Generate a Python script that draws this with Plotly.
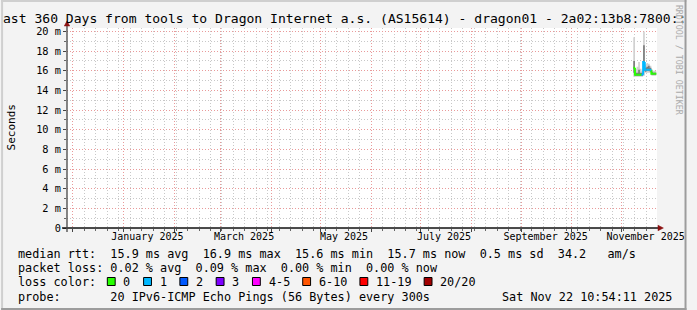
import plotly.graph_objects as go
import pandas as pd

# ---------------- data ----------------
title_text = "ast 360 Days from tools to Dragon Internet a.s. (AS15614) - dragon01 - 2a02:13b8:7800::"
y_title = "Seconds"
watermark = "RRDTOOL / TOBI OETIKER"

range_start = "2024-11-27 10:54:11"
range_end = "2025-11-22 10:54:11"

y_tick_values = [0, 2, 4, 6, 8, 10, 12, 14, 16, 18, 20]
y_tick_labels = ["0", "2 m", "4 m", "6 m", "8 m", "10 m", "12 m", "14 m", "16 m", "18 m", "20 m"]

month_grid_dates = ["2024-12-01", "2025-01-01", "2025-02-01", "2025-03-01", "2025-04-01",
                    "2025-05-01", "2025-06-01", "2025-07-01", "2025-08-01", "2025-09-01",
                    "2025-10-01", "2025-11-01"]
month_label_dates = ["2025-01-15 12:00", "2025-03-15 12:00", "2025-05-15 12:00",
                     "2025-07-15 12:00", "2025-09-15 12:00", "2025-11-15 12:00"]
month_labels = ["January 2025", "March 2025", "May 2025", "July 2025",
                "September 2025", "November 2025"]
week_grid_start = "2024-12-01"  # Sundays

days = ["2025-11-08", "2025-11-09", "2025-11-10", "2025-11-11", "2025-11-12",
        "2025-11-13", "2025-11-14", "2025-11-15", "2025-11-16", "2025-11-17",
        "2025-11-18", "2025-11-19", "2025-11-20", "2025-11-21"]
median_ms = [16.3, 15.6, 15.6, 15.6, 15.6, 15.6, 16.9, 16.1, 16.1, 16.1, 16.1, 15.7, 15.7, 15.7]
ping_lo = [15.4, 15.4, 15.4, 15.4, 15.4, 15.4, 15.5, 15.8, 15.8, 15.8, 15.8, 15.5, 15.5, 15.5]
ping_q1 = [15.8, 15.5, 15.5, 15.5, 15.5, 15.5, 16.0, 15.9, 16.0, 16.0, 15.9, 15.6, 15.6, 15.6]
ping_q3 = [17.0, 15.8, 15.8, 16.1, 15.8, 15.8, 18.6, 16.3, 16.4, 16.5, 16.3, 15.9, 15.8, 15.8]
ping_hi = [19.4, 16.2, 16.4, 16.9, 16.2, 16.0, 20.0, 16.6, 16.8, 16.7, 16.5, 16.1, 16.0, 16.0]
loss_bucket = ["0", "0", "0", "0", "0", "1", "1", "1", "1", "1", "1", "0", "0", "0"]

loss_labels = ["0", "1", "2", "3", "4-5", "6-10", "11-19", "20/20"]
loss_colors = ["#26ff00", "#00b8ff", "#0059ff", "#7e00ff", "#ff00ff", "#ff5500", "#ff0000", "#a10000"]

rtt_stat_names = ["avg", "max", "min", "now"]
rtt_stat_values = [15.9, 16.9, 15.6, 15.7]
rtt_sd = 0.5
rtt_am_s = 34.2
loss_stat_names = ["avg", "max", "min", "now"]
loss_stat_values = [0.02, 0.09, 0.00, 0.00]
probe_text = "20 IPv6-ICMP Echo Pings (56 Bytes) every 300s"
timestamp_text = "Sat Nov 22 10:54:11 2025"

# ---------------- layout constants ----------------
W, H = 697, 310
L, R, T, B = 67, 30, 28, 82
PW, PH = W - L - R, H - T - B
MONO = "DejaVu Sans Mono"
CW = 7.1  # legend char advance


def px(x):
    return (x - L) / PW


def py(y):
    return (H - B - y) / PH


def nb(s):
    return s.replace(" ", "\u00a0")


fig = go.Figure()

# step x positions (each value holds for one day)
xs = list(pd.to_datetime(days)) + [pd.to_datetime(days[-1]) + pd.Timedelta(days=1)]


def ext(v):
    return list(v) + [v[-1]]


# smoke
fig.add_trace(go.Scatter(x=xs, y=ext(ping_lo), mode="lines", line=dict(width=0, shape="hv"),
                         hoverinfo="skip", showlegend=False))
fig.add_trace(go.Scatter(x=xs, y=ext(ping_hi), mode="lines", line=dict(width=0, shape="hv"),
                         fill="tonexty", fillcolor="#d0d0d0", hoverinfo="skip", showlegend=False))
fig.add_trace(go.Scatter(x=xs, y=ext(ping_q1), mode="lines", line=dict(width=0, shape="hv"),
                         hoverinfo="skip", showlegend=False))
fig.add_trace(go.Scatter(x=xs, y=ext(ping_q3), mode="lines", line=dict(width=0, shape="hv"),
                         fill="tonexty", fillcolor="#7a7a7a", hoverinfo="skip", showlegend=False))

# median line coloured by loss
segs = {b: ([], []) for b in loss_labels}
for i, d in enumerate(days):
    x0 = pd.to_datetime(d)
    x1 = x0 + pd.Timedelta(days=1)
    prev = median_ms[i - 1] if i > 0 else median_ms[i]
    sx, sy = segs[loss_bucket[i]]
    sx += [x0, x0, x1, None]
    sy += [prev, median_ms[i], median_ms[i], None]
for b, c in zip(loss_labels, loss_colors):
    sx, sy = segs[b]
    if sx:
        fig.add_trace(go.Scatter(x=sx, y=sy, mode="lines", line=dict(color=c, width=2),
                                 hoverinfo="skip", showlegend=False))

# label axis overlay
fig.add_trace(go.Scatter(x=[range_start], y=[None], xaxis="x2", mode="markers",
                         showlegend=False, hoverinfo="skip"))

RED_GRID = "#e99a9a"
GRAY_GRID = "#c8c8c8"
DASH = "1px,2px"

fig.update_layout(
    width=W, height=H,
    margin=dict(l=L, r=R, t=T, b=B, pad=0),
    paper_bgcolor="#f3f3f3", plot_bgcolor="#ffffff",
    font=dict(family=MONO, size=10, color="#000000"),
    showlegend=False,
    xaxis=dict(
        type="date", range=[range_start, range_end],
        tickmode="array", tickvals=month_grid_dates, showticklabels=False,
        ticks="outside", ticklen=3, tickcolor="#444444",
        showgrid=True, gridcolor=RED_GRID, griddash=DASH, gridwidth=1,
        zeroline=False, showline=False,
        minor=dict(dtick=7 * 86400000, tick0=week_grid_start, showgrid=True,
                   gridcolor=GRAY_GRID, griddash=DASH, ticks="outside", ticklen=2,
                   tickcolor="#666666"),
    ),
    xaxis2=dict(
        type="date", range=[range_start, range_end], overlaying="x", anchor="y", side="bottom",
        tickmode="array", tickvals=month_label_dates, ticktext=month_labels,
        ticks="", showgrid=False, zeroline=False, showline=False,
        tickfont=dict(family=MONO, size=10, color="#000000"), ticklabelstandoff=1,
    ),
    yaxis=dict(
        range=[0, 20.35], tickmode="array", tickvals=y_tick_values, ticktext=y_tick_labels,
        ticks="outside", ticklen=3, tickcolor="#444444",
        showgrid=True, gridcolor=RED_GRID, griddash=DASH, gridwidth=1,
        zeroline=False, showline=False,
        tickfont=dict(family=MONO, size=10.3, color="#000000"),
        minor=dict(dtick=1, showgrid=True, gridcolor=GRAY_GRID, griddash=DASH,
                   ticks="outside", ticklen=2, tickcolor="#666666"),
    ),
)

shapes = []
# frame
shapes.append(dict(type="line", xref="paper", yref="paper", x0=px(0), x1=px(W), y0=py(1), y1=py(1),
                   line=dict(color="#cfcfcf", width=2)))
shapes.append(dict(type="line", xref="paper", yref="paper", x0=px(1), x1=px(1), y0=py(0), y1=py(H),
                   line=dict(color="#cfcfcf", width=2)))
shapes.append(dict(type="line", xref="paper", yref="paper", x0=px(W - 1), x1=px(W - 1), y0=py(0), y1=py(H),
                   line=dict(color="#9c9c9c", width=2)))
shapes.append(dict(type="line", xref="paper", yref="paper", x0=px(0), x1=px(W), y0=py(H - 1), y1=py(H - 1),
                   line=dict(color="#9c9c9c", width=2)))
# axis lines
shapes.append(dict(type="line", xref="paper", yref="paper", x0=px(62), x1=px(668), y0=0, y1=0,
                   line=dict(color="#111111", width=1.3)))
shapes.append(dict(type="line", xref="paper", yref="paper", x0=0, x1=0, y0=py(232), y1=py(25),
                   line=dict(color="#444444", width=1.3)))
# arrows
shapes.append(dict(type="path", xref="paper", yref="paper",
                   path=f"M {px(64.2)} {py(26)} L {px(67)} {py(21)} L {px(69.8)} {py(26)} Z",
                   fillcolor="#8b1010", line=dict(color="#8b1010", width=0.5)))
shapes.append(dict(type="path", xref="paper", yref="paper",
                   path=f"M {px(668)} {py(225.2)} L {px(673.5)} {py(228)} L {px(668)} {py(230.8)} Z",
                   fillcolor="#8b1010", line=dict(color="#8b1010", width=0.5)))

annotations = []


def txt(x, y, s, size, anchor="left", color="#000000", angle=0):
    annotations.append(dict(x=px(x), y=py(y), xref="paper", yref="paper", text=nb(s),
                            showarrow=False, xanchor=anchor, yanchor="middle", borderpad=0,
                            textangle=angle, font=dict(family=MONO, size=size, color=color)))


# title, axis title, watermark
txt(0.5, 18.5, title_text, 13.05)
annotations.append(dict(x=px(10.5), y=py(127), xref="paper", yref="paper", text=y_title,
                        showarrow=False, xanchor="center", yanchor="middle", textangle=-90,
                        font=dict(family=MONO, size=11, color="#000000")))
annotations.append(dict(x=px(689.5), y=py(60), xref="paper", yref="paper", text=nb(watermark),
                        showarrow=False, xanchor="center", yanchor="middle", textangle=90,
                        font=dict(family=MONO, size=8.3, color="#aaaaaa")))

# legend lines
LX = 16
line1 = "median rtt:  " + "  ".join(f"{v:.1f} ms {n}" for v, n in zip(rtt_stat_values, rtt_stat_names)) \
        + f"  {rtt_sd:.1f} ms sd  {rtt_am_s:.1f}   am/s"
line2 = "packet loss: " + "  ".join(f"{v:.2f} % {n}" for v, n in zip(loss_stat_values, loss_stat_names))
line4 = "probe:       " + probe_text
txt(LX, 253.5, line1, 11.8)
txt(LX, 268, line2, 11.8)
txt(LX, 282, "loss color:", 11.8)
txt(LX, 296.5, line4, 11.8)
txt(683.7, 296.5, timestamp_text, 11.8, anchor="right")

# loss colour boxes
bx = 108.0
for lab, col in zip(loss_labels, loss_colors):
    shapes.append(dict(type="rect", xref="paper", yref="paper",
                       x0=px(bx), x1=px(bx + 8), y0=py(277.5), y1=py(285.5),
                       fillcolor=col, line=dict(color="#000000", width=1)))
    txt(bx + 15.3, 282, lab, 11.8)
    bx += 15.3 + len(lab) * CW + 14.5

fig.update_layout(shapes=shapes, annotations=annotations)
fig.write_html("out.html")
